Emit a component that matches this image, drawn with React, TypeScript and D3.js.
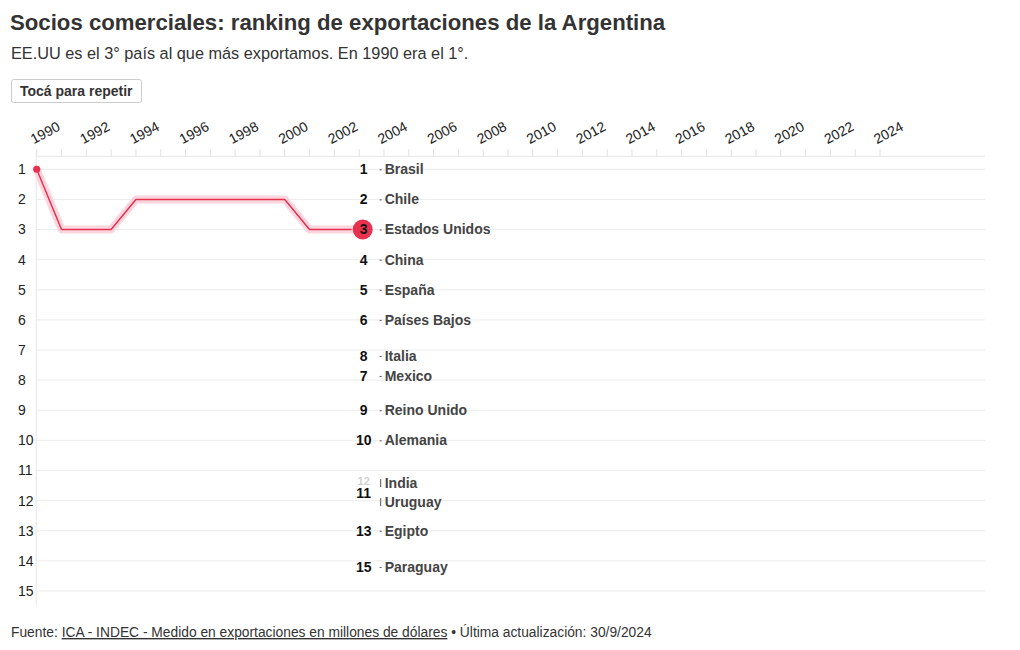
import React from "react";
import * as d3 from "d3";

const years = [1990, 1991, 1992, 1993, 1994, 1995, 1996, 1997, 1998, 1999, 2000, 2001, 2002];
const usaRank = [1, 3, 3, 3, 2, 2, 2, 2, 2, 2, 2, 3, 3];
const currentYear = 2002.7;

const countries = ["Brasil", "Chile", "Estados Unidos", "China", "España", "Países Bajos", "Italia", "Mexico", "Reino Unido", "Alemania", "India", "Uruguay", "Egipto", "Paraguay"];
const positions = [1, 2, 3, 4, 5, 6, 7.2, 7.86, 9, 10, 11.72, 11.75, 13, 14.2];
const shownRank = ["1", "2", "3", "4", "5", "6", "8", "7", "9", "10", "12", "11", "13", "15"];
const rankFade = [1, 1, 1, 1, 1, 1, 1, 1, 1, 1, 0.2, 1, 1, 1];

const yTicks = d3.range(1, 16);
const xTicks = d3.range(1990, 2025);
const xLabels = d3.range(1990, 2025, 2);

const RED = "#e8304f";
const FONT = "'Liberation Sans', Arial, sans-serif";

export default function App() {
  const W = 1020, H = 650;
  const x = d3.scaleLinear().domain([1990, 2024]).range([36.7, 880]);
  const y = d3.scaleLinear().domain([1, 15]).range([169.3, 591]);
  const gridRight = 985;
  const axisTop = y(1) - 13;

  const pts: [number, number][] = years.map((yr, i) => [x(yr), y(usaRank[i])]);
  pts.push([x(currentYear), y(usaRank[usaRank.length - 1])]);
  const line = d3.line()(pts) || "";

  const cx = x(currentYear);
  const numX = cx + 12;
  const dashX = cx + 28;
  const nameX = cx + 33;

  // label collision avoidance
  const actual = positions.map((p) => y(p));
  const idx = d3.range(countries.length).sort((a, b) => actual[a] - actual[b]);
  const labelY = actual.slice();
  const gap = 19;
  for (let iter = 0; iter < 20; iter++) {
    for (let k = 1; k < idx.length; k++) {
      const a = idx[k - 1], b = idx[k];
      const d = labelY[b] - labelY[a];
      if (d < gap) {
        const shift = (gap - d) / 2;
        labelY[a] -= shift;
        labelY[b] += shift;
      }
    }
  }

  return (
    <svg width={W} height={H} style={{ display: "block", position: "absolute", left: 0, top: 0, fontFamily: FONT }}>
      <rect width={W} height={H} fill="#fff" />
      <text x={10} y={30} fontSize={22.2} fontWeight="bold" fill="#333">Socios comerciales: ranking de exportaciones de la Argentina</text>
      <text x={11} y={59} fontSize={16.3} fill="#333">EE.UU es el 3° país al que más exportamos. En 1990 era el 1°.</text>
      <rect x={11.5} y={79.5} width={130} height={23} rx={2} fill="#fff" stroke="#ccc" />
      <text x={20} y={96} fontSize={14} fontWeight="bold" fill="#333">Tocá para repetir</text>

      {/* x axis */}
      <line x1={x(1990) - 0.5} x2={gridRight} y1={axisTop} y2={axisTop} stroke="#e6e6e6" />
      {xTicks.map((t) => (
        <line key={t} x1={x(t)} x2={x(t)} y1={axisTop - 7} y2={axisTop} stroke="#e0e0e0" />
      ))}
      {xLabels.map((t) => (
        <text key={t} transform={`translate(${x(t) - 3},${axisTop - 12}) rotate(-28)`} fontSize={14} fill="#222">{t}</text>
      ))}
      <line x1={x(1990) - 0.5} x2={x(1990) - 0.5} y1={axisTop - 6} y2={605} stroke="#e6e6e6" />

      {/* y grid */}
      {yTicks.map((t) => (
        <g key={t}>
          <line x1={x(1990) - 0.5} x2={gridRight} y1={y(t)} y2={y(t)} stroke="#ececec" />
          <text x={18} y={y(t)} dy="0.35em" fontSize={14} fill="#222">{t}</text>
        </g>
      ))}

      {/* line */}
      <path d={line} fill="none" stroke="#fcd6de" strokeWidth={8} strokeLinejoin="round" strokeLinecap="round" />
      <path d={line} fill="none" stroke={RED} strokeWidth={1.5} strokeLinejoin="round" />
      <circle cx={x(1990)} cy={y(usaRank[0])} r={3.5} fill={RED} />

      {/* labels */}
      {countries.map((c, i) => {
        const ly = labelY[i];
        const displaced = Math.abs(ly - actual[i]) > 1;
        const isUSA = c === "Estados Unidos";
        const faded = rankFade[i] < 1;
        const ny = faded ? ly - 2 : actual[i];
        return (
          <g key={c}>
            {isUSA && <circle cx={numX - 1} cy={actual[i]} r={10} fill={RED} />}
            <text x={numX} y={ny} dy="0.35em" textAnchor="middle" fontSize={faded ? 11 : 14} fontWeight="bold" fill="#111" opacity={rankFade[i]}>{shownRank[i]}</text>
            {displaced ? (
              <line x1={dashX + 1} x2={dashX + 1} y1={ly - 4} y2={ly + 4} stroke="#555" strokeWidth={1} />
            ) : (
              <line x1={dashX} x2={dashX + 2} y1={ly + 0.5} y2={ly + 0.5} stroke="#555" strokeWidth={1} />
            )}
            <text x={nameX} y={ly} dy="0.35em" fontSize={14} fontWeight="bold" fill="#444">{c}</text>
          </g>
        );
      })}

      {/* footer */}
      <text x={11} y={637} fontSize={13.8} fill="#333">
        Fuente: <tspan textDecoration="underline" style={{ textDecoration: "underline" }}>ICA - INDEC - Medido en exportaciones en millones de dólares</tspan> • Última actualización: 30/9/2024
      </text>
    </svg>
  );
}
